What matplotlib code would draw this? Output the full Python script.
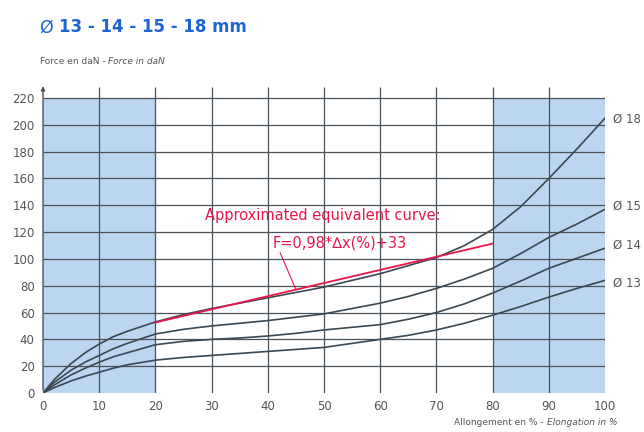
import matplotlib.pyplot as plt
import numpy as np

# allongement en %
x = [0, 2, 5, 7.5, 10, 12.5, 15, 20, 25, 30, 35, 40, 45, 50, 55, 60, 65, 70, 75, 80, 85, 90, 95, 100]

# force en daN
d18 = [0, 10, 22, 30, 36.5, 42, 46, 53, 58.5, 63, 67, 71, 75, 79, 84, 89, 95, 101, 110, 122, 139, 160, 182, 205]
d15 = [0, 8, 17, 23, 28, 33, 37, 44, 47.5, 50, 52, 54, 56.5, 59, 63, 67, 72, 78, 85, 93, 104, 116, 126, 137]
d14 = [0, 6, 13.5, 18.5, 23, 27, 30, 36, 38.5, 40, 41, 42.5, 44.5, 47, 49, 51, 55, 60, 66.5, 74.5, 83.5, 93, 100.5, 108]
d13 = [0, 4, 9, 12.5, 15.5, 18.5, 21, 24.5, 26.5, 28, 29.5, 31, 32.5, 34, 37, 40, 43, 47, 52, 58, 64.5, 71.5, 78, 84]

curves = [d18, d15, d14, d13]
labels = ["Ø 18", "Ø 15", "Ø 14", "Ø 13"]
label_y = [204, 139, 110, 82]

# droite equivalente F = 0,98*x + 33
slope = 0.98
intercept = 33
x_fit = [20, 80]

x_ticks = list(range(0, 101, 10))
y_ticks = list(range(0, 221, 20))

blue = "#bcd6f2"
grid_c = "#4a5258"
curve_c = "#3b4852"
red = "#e8174a"
txt_c = "#555555"
title_c = "#1e64d2"

fig = plt.figure(figsize=(6.44, 4.32), dpi=100)
ax = fig.add_axes([0.0668, 0.0903, 0.8727, 0.7201])
ax.set_xlim(0, 100)
ax.set_ylim(0, 232)

# zones bleues
ax.fill_between([0, 20], 0, 220, color=blue, lw=0, zorder=0)
ax.fill_between([80, 100], 0, 220, color=blue, lw=0, zorder=0)

# quadrillage
ax.hlines(y_ticks[1:], 0, 100, color=grid_c, lw=0.9, zorder=1)
ax.vlines(x_ticks[1:-1], 0, 228, color=grid_c, lw=0.9, zorder=1)

# axes avec fleches
ax.annotate("", xy=(0, 231), xytext=(0, 0),
            arrowprops=dict(arrowstyle="-|>", color=grid_c, lw=1, mutation_scale=6), zorder=3)
ax.annotate("", xy=(101, 0), xytext=(0, 0),
            arrowprops=dict(arrowstyle="-|>", color=grid_c, lw=1, mutation_scale=6), zorder=3)

for c in curves:
    ax.plot(x, c, color=curve_c, lw=1.2, zorder=2, solid_joinstyle="round")

xf = np.array(x_fit)
ax.plot(xf, slope * xf + intercept, color=red, lw=1.3, zorder=3)

for lab, yy in zip(labels, label_y):
    ax.text(101.5, yy, lab, color=txt_c, fontsize=8.5, va="center", ha="left")

ax.text(28.8, 132.5, "Approximated equivalent curve:", color=red, fontsize=10.5,
        va="center", ha="left")
ax.text(52.8, 112, "F=0,98*\u2206x(%)+33", color=red, fontsize=10.5,
        va="center", ha="center")
ax.plot([42.2, 45], [104.5, slope * 45 + intercept], color=red, lw=0.8, zorder=3)

for s in ax.spines.values():
    s.set_visible(False)
ax.set_xticks(x_ticks)
ax.set_yticks(y_ticks)
ax.tick_params(length=0, colors=txt_c, labelsize=8.5)
ax.tick_params(axis="y", pad=6)
ax.tick_params(axis="x", pad=5)

# titre et libelles des axes
t = fig.text(0.062, 0.937, "Ø ", color=title_c, fontsize=12.5, va="center", ha="left")
ax.annotate("13 - 14 - 15 - 18 mm", xy=(1, 0.5), xycoords=t, va="center", ha="left",
            color=title_c, fontsize=12, fontweight="bold", annotation_clip=False)

t2 = fig.text(0.062, 0.857, "Force en daN - ", color=txt_c, fontsize=6.5, va="center", ha="left")
ax.annotate("Force in daN", xy=(1, 0.5), xycoords=t2, va="center", ha="left",
            color=txt_c, fontsize=6.5, style="italic", annotation_clip=False)

t3 = fig.text(0.705, 0.022, "Allongement en % - ", color=txt_c, fontsize=6.5, va="center", ha="left")
ax.annotate("Elongation in %", xy=(1, 0.5), xycoords=t3, va="center", ha="left",
            color=txt_c, fontsize=6.5, style="italic", annotation_clip=False)

fig.savefig("out.png", dpi=100)
